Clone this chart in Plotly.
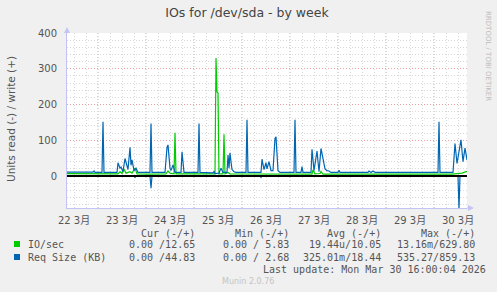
import plotly.graph_objects as go

# ---------------- data ----------------
title = "IOs for /dev/sda - by week"
x_start = "2026-03-22 08:30"
x_end = "2026-03-30 16:30"

day_lines = ["2026-03-23", "2026-03-24", "2026-03-25", "2026-03-26",
             "2026-03-27", "2026-03-28", "2026-03-29", "2026-03-30"]
tick_vals = ["2026-03-22 12:00", "2026-03-23 12:00", "2026-03-24 12:00",
             "2026-03-25 12:00", "2026-03-26 12:00", "2026-03-27 12:00",
             "2026-03-28 12:00", "2026-03-29 12:00", "2026-03-30 12:00"]
tick_text = ["22 3月", "23 3月", "24 3月", "25 3月", "26 3月",
             "27 3月", "28 3月", "29 3月", "30 3月"]
y_ticks = [0, 100, 200, 300, 400]

# IO/sec write (+)
io_write_t = ["2026-03-22 08:30", "2026-03-23 01:00", "2026-03-23 10:00", "2026-03-23 11:00",
              "2026-03-23 12:00", "2026-03-23 13:00", "2026-03-23 14:00", "2026-03-23 16:00",
              "2026-03-23 17:00", "2026-03-23 18:30", "2026-03-23 19:30", "2026-03-24 02:00",
              "2026-03-24 10:00", "2026-03-24 11:00", "2026-03-24 12:00", "2026-03-24 14:00",
              "2026-03-24 14:30", "2026-03-24 15:00", "2026-03-25 08:00", "2026-03-25 10:30",
              "2026-03-25 11:00", "2026-03-25 11:30", "2026-03-25 12:00", "2026-03-25 12:30",
              "2026-03-25 14:30", "2026-03-25 15:00", "2026-03-25 15:30", "2026-03-25 17:00",
              "2026-03-25 18:00", "2026-03-27 11:00", "2026-03-27 11:30", "2026-03-27 12:30",
              "2026-03-27 15:00", "2026-03-27 15:30", "2026-03-27 16:30", "2026-03-30 09:00",
              "2026-03-30 14:00", "2026-03-30 16:30"]
io_write_v = [6.5, 6, 6, 12,
              7, 19, 8, 12,
              8, 22, 6, 5.5,
              6, 14, 8, 6,
              121, 6, 5.5, 6,
              330, 235, 232, 6,
              6, 117, 6, 10,
              6, 5.5, 17, 6,
              7, 13, 5, 5.5,
              8, 13]
# IO/sec read (-)
io_read_t = ["2026-03-22 08:30", "2026-03-30 16:30"]
io_read_v = [0, 0]

# Req Size (KB) write (+)
req_write_t = ["2026-03-22 08:30", "2026-03-22 21:30", "2026-03-22 22:00", "2026-03-22 22:30",
               "2026-03-23 02:00", "2026-03-23 02:30", "2026-03-23 03:00", "2026-03-23 09:30",
               "2026-03-23 10:00", "2026-03-23 11:00", "2026-03-23 11:30", "2026-03-23 12:30",
               "2026-03-23 13:30", "2026-03-23 14:30", "2026-03-23 15:00", "2026-03-23 16:00",
               "2026-03-23 16:30", "2026-03-23 17:00", "2026-03-23 18:00", "2026-03-23 19:00",
               "2026-03-23 20:00", "2026-03-24 02:00", "2026-03-24 02:30", "2026-03-24 03:00",
               "2026-03-24 09:30", "2026-03-24 10:30", "2026-03-24 11:00", "2026-03-24 12:00",
               "2026-03-24 12:30", "2026-03-24 13:30", "2026-03-24 14:30", "2026-03-24 17:30",
               "2026-03-24 18:00", "2026-03-24 19:00", "2026-03-25 02:00", "2026-03-25 02:30",
               "2026-03-25 03:00", "2026-03-25 09:30", "2026-03-25 10:00", "2026-03-25 10:30",
               "2026-03-25 12:30", "2026-03-25 13:30", "2026-03-25 14:30", "2026-03-25 16:30",
               "2026-03-25 17:00", "2026-03-25 17:30", "2026-03-25 18:00", "2026-03-25 18:30",
               "2026-03-25 19:00", "2026-03-25 20:00", "2026-03-25 21:00", "2026-03-26 02:00",
               "2026-03-26 02:30", "2026-03-26 03:00", "2026-03-26 09:30", "2026-03-26 10:00",
               "2026-03-26 11:00", "2026-03-26 12:00", "2026-03-26 12:30", "2026-03-26 13:30",
               "2026-03-26 14:30", "2026-03-26 15:30", "2026-03-26 16:30", "2026-03-26 17:00",
               "2026-03-26 18:00", "2026-03-26 19:00", "2026-03-27 02:00", "2026-03-27 02:30",
               "2026-03-27 03:00", "2026-03-27 05:30", "2026-03-27 06:00", "2026-03-27 06:30",
               "2026-03-27 10:30", "2026-03-27 11:00", "2026-03-27 12:00", "2026-03-27 13:30",
               "2026-03-27 14:30", "2026-03-27 15:30", "2026-03-27 16:30", "2026-03-27 17:30",
               "2026-03-27 18:30", "2026-03-27 19:30", "2026-03-27 20:30", "2026-03-28 00:00",
               "2026-03-28 00:30", "2026-03-28 01:00", "2026-03-28 15:00", "2026-03-28 15:30",
               "2026-03-28 16:30", "2026-03-28 17:30", "2026-03-28 18:30", "2026-03-30 02:00",
               "2026-03-30 02:30", "2026-03-30 03:00", "2026-03-30 09:30", "2026-03-30 10:30",
               "2026-03-30 11:30", "2026-03-30 12:30", "2026-03-30 13:30", "2026-03-30 14:30",
               "2026-03-30 15:30", "2026-03-30 16:30"]
req_write_v = [11, 11, 14, 10,
               10, 152, 10, 10,
               37, 22, 25, 12,
               49, 28, 18, 80,
               30, 45, 15, 22,
               10, 10, 147, 10,
               10, 80, 87, 22,
               15, 31, 10, 10,
               68, 10, 10, 147,
               10, 9, 13, 7,
               8, 22, 10, 10,
               59, 22, 65, 40,
               18, 12, 10, 10,
               157, 10, 10, 47,
               18, 37, 20, 40,
               15, 15, 105, 110,
               15, 10, 10, 157,
               10, 10, 26, 10,
               10, 75, 15, 70,
               12, 77, 45, 20,
               15, 14, 10, 10,
               16, 10, 10, 14,
               10, 14, 10, 10,
               152, 10, 10, 91,
               35, 64, 101, 40,
               78, 45]
# Req Size (KB) read (-)
req_read_t = ["2026-03-22 08:30", "2026-03-23 18:00", "2026-03-23 18:30", "2026-03-23 19:00",
              "2026-03-24 02:00", "2026-03-24 02:30", "2026-03-24 03:00", "2026-03-26 09:00",
              "2026-03-26 09:30", "2026-03-26 10:00", "2026-03-30 12:00", "2026-03-30 12:30",
              "2026-03-30 13:00", "2026-03-30 16:30"]
req_read_v = [0, 0, -4, 0,
              0, -34, 0, 0,
              -4, 0, 0, -92,
              0, 0]

legend_names = ["IO/sec", "Req Size (KB)"]
legend_colors = ["#00CC00", "#0066B3"]
col_headers = ["Cur (-/+)", "Min (-/+)", "Avg (-/+)", "Max (-/+)"]
row_cur = ["0.00 /12.65", "0.00 /44.83"]
row_min = ["0.00 / 5.83", "0.00 / 2.68"]
row_avg = ["19.44u/10.05", "325.01m/18.44"]
row_max = ["13.16m/629.80", "535.27/859.13"]
last_update = "Last update: Mon Mar 30 16:00:04 2026"
footer = "Munin 2.0.76"
side_text = "RRDTOOL / TOBI OETIKER"

# ---------------- layout helpers ----------------
W, H = 497, 292
L, R, T, B = 67, 467, 33, 208


def px(x):
    return (x - L) / (R - L)


def py(y):
    return (B - y) / (B - T)


TXT = "#555555"
MONO = "DejaVu Sans Mono, monospace"
SANS = "DejaVu Sans, Noto Sans CJK JP, sans-serif"

fig = go.Figure()
fig.add_trace(go.Scatter(x=io_read_t, y=io_read_v, mode="lines",
                         line=dict(color=legend_colors[0], width=1.2), showlegend=False))
fig.add_trace(go.Scatter(x=io_write_t, y=io_write_v, mode="lines",
                         line=dict(color=legend_colors[0], width=1.2), showlegend=False))
fig.add_trace(go.Scatter(x=req_read_t, y=req_read_v, mode="lines",
                         line=dict(color=legend_colors[1], width=1.2), showlegend=False))
fig.add_trace(go.Scatter(x=req_write_t, y=req_write_v, mode="lines",
                         line=dict(color=legend_colors[1], width=1.2), showlegend=False))

shapes = []
for d in day_lines:
    shapes.append(dict(type="line", xref="x", yref="paper", x0=d, x1=d, y0=0, y1=1,
                       line=dict(color="#E8A0A0", width=1, dash="1px,2px"), layer="below"))
# zero rule
shapes.append(dict(type="line", xref="paper", yref="y", x0=0, x1=1, y0=0, y1=0,
                   line=dict(color="#000000", width=1.8), layer="above"))
# axis arrows
AX = "#C4C4F4"
shapes.append(dict(type="line", xref="paper", yref="paper", x0=0, x1=0, y0=1, y1=py(29),
                   line=dict(color=AX, width=1)))
shapes.append(dict(type="path", xref="paper", yref="paper",
                   path=f"M {px(64)} {py(33)} L {px(70)} {py(33)} L {px(67)} {py(27)} Z",
                   fillcolor=AX, line=dict(width=0)))
shapes.append(dict(type="line", xref="paper", yref="paper", x0=1, x1=px(470), y0=0, y1=0,
                   line=dict(color=AX, width=1)))
shapes.append(dict(type="path", xref="paper", yref="paper",
                   path=f"M {px(468)} {py(205)} L {px(468)} {py(211)} L {px(474)} {py(208)} Z",
                   fillcolor=AX, line=dict(width=0)))
# legend squares
for i, c in enumerate(legend_colors):
    yc = 244 + 13 * i
    shapes.append(dict(type="rect", xref="paper", yref="paper",
                       x0=px(14), x1=px(20), y0=py(yc - 3), y1=py(yc + 3),
                       fillcolor=c, line=dict(width=0)))

ann = []


def add_text(text, x, y, anchor="left", size=10, color=TXT, family=MONO, angle=0):
    ann.append(dict(text=text, x=px(x), y=py(y), xref="paper", yref="paper",
                    xanchor=anchor, yanchor="middle", showarrow=False, textangle=angle,
                    font=dict(size=size, color=color, family=family)))


add_text("Units read (-) / write (+)", 11, 119, anchor="center", size=10.5,
         family=SANS, angle=-90)
add_text(side_text, 488, 56, anchor="center", size=7, color="#BDBDBD", family=SANS, angle=90)

col_right = [197, 291, 383, 477]
for h, xr in zip(col_headers, col_right):
    add_text(h, xr, 233, anchor="right")
for i, name in enumerate(legend_names):
    yy = 244 + 13 * i
    add_text(name, 26, yy)
    add_text(row_cur[i], col_right[0], yy, anchor="right")
    add_text(row_min[i], col_right[1], yy, anchor="right")
    add_text(row_avg[i], col_right[2], yy, anchor="right")
    add_text(row_max[i], col_right[3], yy, anchor="right")
add_text(last_update, 261, 269, anchor="left")
add_text(footer, 248, 281, anchor="center", size=8, color="#C4C4C4", family=SANS)

fig.update_layout(
    width=W, height=H,
    margin=dict(l=L, r=W - R, t=T, b=H - B, pad=0),
    paper_bgcolor="#F0F0F0", plot_bgcolor="#FFFFFF",
    showlegend=False,
    title=dict(text=title, x=247 / W, xanchor="center", y=1 - 13 / H, yanchor="middle",
               yref="container", font=dict(size=12.5, color="#444444", family=SANS)),
    shapes=shapes, annotations=ann,
    xaxis=dict(type="date", range=[x_start, x_end], tickmode="array",
               tickvals=tick_vals, ticktext=tick_text, showgrid=False, zeroline=False,
               showline=True, linecolor=AX, linewidth=1, ticks="",
               ticklabelstandoff=3,
               tickfont=dict(size=10, color=TXT, family=SANS),
               minor=dict(dtick=6 * 3600 * 1000, tick0="2026-03-22 00:00", showgrid=True,
                          gridcolor="#D8D8D8", griddash="1px,2px", gridwidth=1, ticks="")),
    yaxis=dict(range=[-89.5, 400], tickmode="array", tickvals=y_ticks,
               showgrid=True, gridcolor="#E8A0A0", griddash="1px,2px", gridwidth=1,
               zeroline=False, showline=True, linecolor=AX, linewidth=1, ticks="",
               ticklabelstandoff=7,
               tickfont=dict(size=10, color=TXT, family=SANS),
               minor=dict(dtick=20, tick0=0, showgrid=True, gridcolor="#D8D8D8",
                          griddash="1px,2px", gridwidth=1, ticks="")),
)

fig.write_html("out.html")
